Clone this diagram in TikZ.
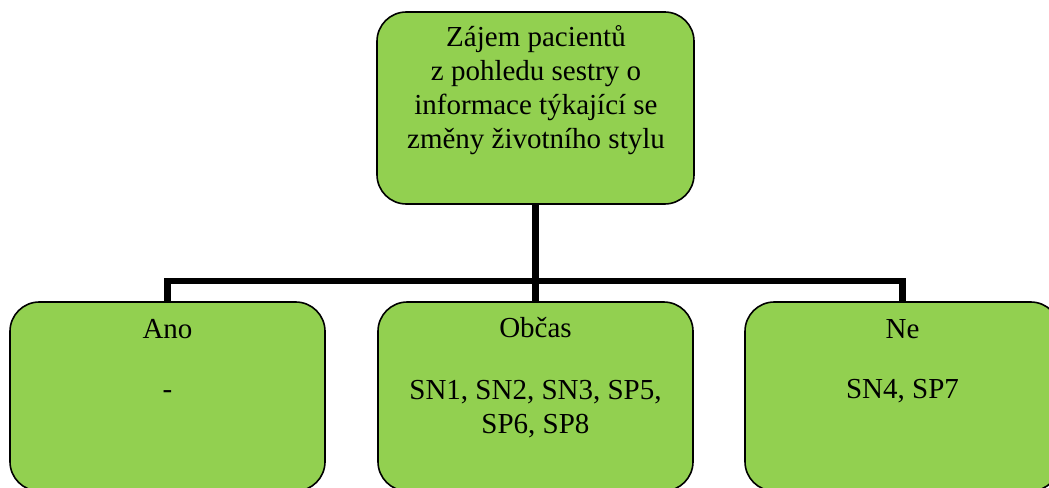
\documentclass[tikz,border=0pt]{standalone}
\usepackage{fontspec}
\setmainfont{Liberation Serif}
\definecolor{boxgreen}{HTML}{92D050}
\tikzset{
  box/.style={draw=black, line width=1.2pt, fill=boxgreen, rounded corners=22pt,
              minimum width=236.25pt, inner sep=0pt},
  txt/.style={font=\fontsize{21.75pt}{25.5pt}\selectfont, align=center, inner sep=0pt},
  conn/.style={line width=4.6pt, line join=miter}
}
\begin{document}
\begin{tikzpicture}[x=0.75pt, y=-0.75pt]
  \useasboundingbox (0,0) rectangle (1049,488);
  \clip (0,0) rectangle (1049,488);

  % boxes
  \node[box, minimum width=237.75pt, minimum height=144pt] (top) at (535.5,108) {};
  \node[box, minimum height=141.75pt] (left)  at (167.5,396.5) {};
  \node[box, minimum height=141.75pt] (mid)   at (535.5,396.5) {};
  \node[box, minimum height=141.75pt] (right) at (902.5,396.5) {};

  % connectors
  \coordinate (hub) at (535.5,281);
  \draw[conn] (top.south) -- (mid.north);
  \draw[conn] (left.north) |- (hub) -| (right.north);

  % texts (multi-line nodes sit on the baseline of their last line)
  \node[txt, anchor=base] (toptxt) at (536,149)
    {Zájem pacientů\\z pohledu sestry o\\informace týkající se\\změny životního stylu};
  \node[txt, anchor=base] (anoh) at (167.5,338) {Ano};
  \node[txt, anchor=base] (anob) at (167.5,398) {-};
  \node[txt, anchor=base] (obch) at (535.5,337) {Občas};
  \node[txt, anchor=base] (obcb) at (535.5,433) {SN1, SN2, SN3, SP5,\\SP6, SP8};
  \node[txt, anchor=base] (neh)  at (902.5,338) {Ne};
  \node[txt, anchor=base] (neb)  at (902.5,398) {SN4, SP7};
\end{tikzpicture}
\end{document}
